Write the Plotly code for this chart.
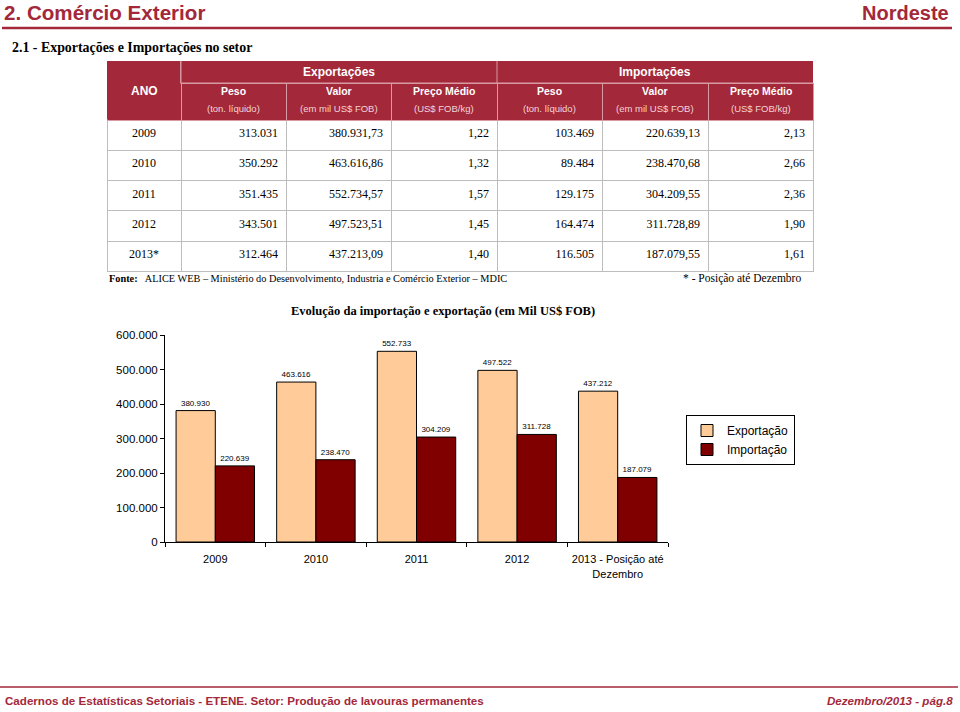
import plotly.graph_objects as go

# ---------------- data ----------------
anos = ["2009", "2010", "2011", "2012", "2013*"]
exp_peso = [313031, 350292, 351435, 343501, 312464]
exp_valor = [380931.73, 463616.86, 552734.57, 497523.51, 437213.09]
exp_preco = [1.22, 1.32, 1.57, 1.45, 1.40]
imp_peso = [103469, 89484, 129175, 164474, 116505]
imp_valor = [220639.13, 238470.68, 304209.55, 311728.89, 187079.55]
imp_preco = [2.13, 2.66, 2.36, 1.90, 1.61]

col_names = ["Peso", "Valor", "Preço Médio"]
col_units = ["(ton. líquido)", "(em mil US$ FOB)", "(US$ FOB/kg)"]

chart_cats = ["2009", "2010", "2011", "2012", "2013 - Posição até<br>Dezembro"]
chart_exp = [380930, 463616, 552733, 497522, 437212]
chart_imp = [220639, 238470, 304209, 311728, 187079]
y_ticks = [0, 100000, 200000, 300000, 400000, 500000, 600000]

W, H = 960, 712
RED = "#A3283A"
SANS = "Arial, Liberation Sans, sans-serif"
SERIF = "Times New Roman, Liberation Serif, serif"
HDR_LINE = "#D89AA3"


def X(px):
    return px / W


def Y(py):
    return 1 - py / H


def br(v, dec):
    s = f"{v:,.{dec}f}"
    return s.replace(",", "X").replace(".", ",").replace("X", ".")


def text(t, x, y, size, color="black", family=SANS, xa="center", ya="middle"):
    return dict(text=t, x=X(x), y=Y(y), xref="paper", yref="paper", xanchor=xa, yanchor=ya,
                showarrow=False, font=dict(family=family, size=size, color=color))


# ---------------- table geometry ----------------
tx0, tx1 = 107, 813
colw = [74, 105, 105, 106, 105, 106, 105]
ty_top, ty_sub, ty_body = 61, 83, 120
row_h = 30.3
cum = [tx0]
for w in colw:
    cum.append(cum[-1] + w)

fig = go.Figure()

fig.add_trace(go.Table(
    domain=dict(x=[X(tx0), X(tx1)], y=[Y(ty_body + 5 * row_h + 6), Y(ty_sub)]),
    columnwidth=colw,
    header=dict(values=[""] * 7, height=ty_body - ty_sub, fill_color=RED,
                line=dict(color=HDR_LINE, width=1)),
    cells=dict(values=[anos,
                       [br(v, 0) for v in exp_peso], [br(v, 2) for v in exp_valor],
                       [br(v, 2) for v in exp_preco],
                       [br(v, 0) for v in imp_peso], [br(v, 2) for v in imp_valor],
                       [br(v, 2) for v in imp_preco]],
               height=row_h, fill_color="white",
               line=dict(color="#BDBDBD", width=1),
               align=["center"] + ["right"] * 6,
               font=dict(family=SERIF, size=12, color="black")),
))

shapes = []
anns = []
# top header row
shapes.append(dict(type="rect", xref="paper", yref="paper", x0=X(tx0), x1=X(cum[1] - 0.5),
                   y0=Y(ty_body - 0.5), y1=Y(ty_top), fillcolor=RED, line=dict(width=0), layer="above"))
shapes.append(dict(type="rect", xref="paper", yref="paper", x0=X(cum[1]), x1=X(tx1),
                   y0=Y(ty_sub), y1=Y(ty_top), fillcolor=RED, line=dict(width=0), layer="above"))
shapes.append(dict(type="line", xref="paper", yref="paper", x0=X(cum[1]), x1=X(tx1),
                   y0=Y(ty_sub), y1=Y(ty_sub), line=dict(color=HDR_LINE, width=1), layer="above"))
for cx in (cum[1], cum[4]):
    shapes.append(dict(type="line", xref="paper", yref="paper", x0=X(cx), x1=X(cx),
                       y0=Y(ty_sub), y1=Y(ty_top), line=dict(color=HDR_LINE, width=1), layer="above"))

anns.append(text("<b>ANO</b>", (cum[0] + cum[1]) / 2, 91, 12, "white"))
anns.append(text("<b>Exportações</b>", (cum[1] + cum[4]) / 2, 72, 12, "white"))
anns.append(text("<b>Importações</b>", (cum[4] + cum[7]) / 2, 72, 12, "white"))
for i in range(6):
    cx = (cum[i + 1] + cum[i + 2]) / 2
    anns.append(text(f"<b>{col_names[i % 3]}</b>", cx, 91, 10.5, "white"))
    anns.append(text(col_units[i % 3], cx, 108, 9.5, "#F3D3D7"))

# page title & lines
anns.append(text("<b>2. Comércio Exterior</b>", 2, 13, 20.6, RED, xa="left"))
anns.append(text("<b>Nordeste</b>", 951, 13, 20, RED, xa="right"))
shapes.append(dict(type="line", xref="paper", yref="paper", x0=X(2), x1=X(952), y0=Y(28), y1=Y(28),
                   line=dict(color=RED, width=2.5)))
anns.append(text("<b>2.1 - Exportações e Importações no setor</b>", 10, 47, 13.9, family=SERIF, xa="left"))

# source lines
anns.append(text("<b>Fonte:</b>   ALICE WEB – Ministério do Desenvolvimento, Industria e Comércio Exterior – MDIC",
                 107, 279, 10.3, family=SERIF, xa="left"))
anns.append(text("* - Posição até Dezembro", 803, 279, 11.5, family=SERIF, xa="right"))

# chart title
anns.append(text("<b>Evolução da importação e exportação (em Mil US$ FOB)</b>", 443, 311, 12.5, family=SERIF))

# footer
shapes.append(dict(type="line", xref="paper", yref="paper", x0=X(0), x1=X(958), y0=Y(687), y1=Y(687),
                   line=dict(color=RED, width=1.5)))
anns.append(text("<b>Cadernos de Estatísticas Setoriais - ETENE. Setor: Produção de lavouras permanentes</b>",
                 3, 700, 11.6, RED, xa="left"))
anns.append(text("<b><i>Dezembro/2013 - pág.8</i></b>", 955, 700, 11.6, RED, xa="right"))

# ---------------- chart ----------------
fig.add_trace(go.Bar(name="Exportação", x=chart_cats, y=chart_exp,
                     marker=dict(color="#FFCC99", line=dict(color="black", width=1)),
                     texttemplate="%{y:,d}", textposition="outside",
                     textfont=dict(family=SANS, size=8, color="black"), cliponaxis=False))
fig.add_trace(go.Bar(name="Importação", x=chart_cats, y=chart_imp,
                     marker=dict(color="#800000", line=dict(color="black", width=1)),
                     texttemplate="%{y:,d}", textposition="outside",
                     textfont=dict(family=SANS, size=8, color="black"), cliponaxis=False))

fig.update_layout(
    width=W, height=H, margin=dict(l=0, r=0, t=0, b=0, pad=0, autoexpand=False),
    paper_bgcolor="white", plot_bgcolor="white",
    separators=",.",
    barmode="group", bargap=0.22, bargroupgap=0,
    shapes=shapes, annotations=anns,
    showlegend=True,
    legend=dict(x=X(686), y=Y(415), xanchor="left", yanchor="top",
                bordercolor="black", borderwidth=1, bgcolor="white",
                font=dict(family=SANS, size=12, color="black"),
                itemwidth=30, tracegroupgap=0),
    xaxis=dict(domain=[X(165), X(668)], showline=True, linecolor="black", linewidth=1,
               ticks="outside", ticklen=4, tickcolor="black", tickson="boundaries",
               tickangle=0, ticklabelstandoff=7,
               tickfont=dict(family=SANS, size=11, color="black"), showgrid=False,
               anchor="y", automargin=False, fixedrange=True),
    yaxis=dict(domain=[Y(542), Y(335)], range=[0, 600000], tickvals=y_ticks, tickformat=",d",
               showline=True, linecolor="black", linewidth=1, ticks="outside", ticklen=4,
               tickcolor="black", showgrid=False, zeroline=False, automargin=False,
               tickfont=dict(family=SANS, size=11.5, color="black"), anchor="x", fixedrange=True),
)

fig.write_html("out.html", config={"displayModeBar": False},
               post_script="document.body.style.margin='0';document.body.style.overflow='hidden';")
